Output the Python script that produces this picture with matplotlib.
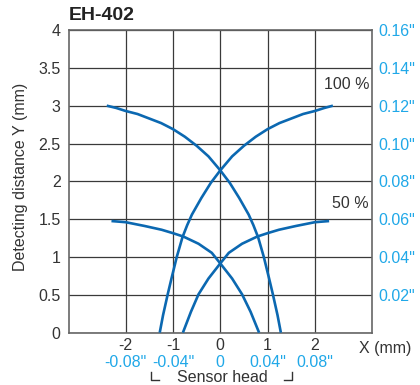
import matplotlib
matplotlib.use("Agg")
from matplotlib import pyplot as plt
from matplotlib.lines import Line2D
from matplotlib.transforms import blended_transform_factory

plt.rcParams['font.family'] = ['Liberation Sans', 'DejaVu Sans']

# 100 % curves (mm)
x100_a = [-2.40, -2.20, -2.00, -1.75, -1.50, -1.25, -1.00, -0.75, -0.50, -0.25, 0.00,
          0.20, 0.40, 0.60, 0.70, 0.80, 0.92, 1.03, 1.11, 1.21, 1.28]
y100_a = [3.00, 2.97, 2.93, 2.89, 2.83, 2.77, 2.69, 2.59, 2.47, 2.33, 2.145,
          1.98, 1.78, 1.56, 1.42, 1.26, 1.00, 0.72, 0.51, 0.23, 0.00]
x100_b = [2.38, 2.20, 2.00, 1.75, 1.50, 1.25, 1.00, 0.75, 0.50, 0.25, 0.00,
          -0.20, -0.40, -0.60, -0.70, -0.80, -0.92, -1.03, -1.11, -1.21, -1.28]
y100_b = [3.00, 2.97, 2.93, 2.89, 2.83, 2.77, 2.69, 2.59, 2.47, 2.33, 2.145,
          1.98, 1.78, 1.56, 1.42, 1.26, 1.00, 0.72, 0.51, 0.23, 0.00]

# 50 % curves (mm)
x50_a = [-2.30, -2.00, -1.60, -1.24, -1.00, -0.78, -0.46, -0.18, 0.00, 0.25, 0.46, 0.64, 0.82]
y50_a = [1.475, 1.46, 1.41, 1.36, 1.315, 1.27, 1.175, 1.055, 0.915, 0.715, 0.507, 0.276, 0.00]
x50_b = [2.30, 2.00, 1.60, 1.24, 1.00, 0.78, 0.46, 0.18, 0.00, -0.25, -0.46, -0.62, -0.79]
y50_b = [1.475, 1.46, 1.41, 1.36, 1.315, 1.27, 1.175, 1.055, 0.915, 0.715, 0.507, 0.276, 0.00]

yticks = [0, 0.5, 1, 1.5, 2, 2.5, 3, 3.5, 4]
ytick_labels = ['0', '0.5', '1', '1.5', '2', '2.5', '3', '3.5', '4']
yinch_labels = ['', '0.02"', '0.04"', '0.06"', '0.08"', '0.10"', '0.12"', '0.14"', '0.16"']
xticks = [-2, -1, 0, 1, 2]
xtick_labels = ['-2', '-1', '0', '1', '2']
xinch_labels = ['-0.08"', '-0.04"', '0', '0.04"', '0.08"']

blue = '#0b68b1'
cyan = '#20a8e8'
txt = '#333333'

fig = plt.figure(figsize=(4.2, 3.85), dpi=100)
ax = fig.add_axes([0.164, 0.136, 0.721, 0.786])

for xs, ys in [(x100_a, y100_a), (x100_b, y100_b), (x50_a, y50_a), (x50_b, y50_b)]:
    ax.plot(xs, ys, color=blue, lw=1.9, solid_capstyle='butt', zorder=3)

ax.set_xlim(-3.2, 3.2)
ax.set_ylim(0, 4)
ax.set_xticks(xticks)
ax.set_xticklabels(xtick_labels)
ax.set_yticks(yticks)
ax.set_yticklabels(ytick_labels)
ax.tick_params(axis='y', length=0, labelsize=11.5, labelcolor=txt, pad=6)
ax.tick_params(axis='x', length=0, labelsize=11.5, labelcolor=txt, pad=4)
ax.grid(True, color='#3a3a3a', lw=0.9)
for s in ax.spines.values():
    s.set_color('#666666')
    s.set_linewidth(1.2)

ax2 = ax.twinx()
ax2.set_ylim(0, 4)
ax2.set_yticks(yticks)
ax2.set_yticklabels(yinch_labels)
ax2.tick_params(length=0, labelsize=11.5, labelcolor=cyan, pad=5)
for s in ax2.spines.values():
    s.set_visible(False)

trans = blended_transform_factory(ax.transData, ax.transAxes)
for xv, lab in zip(xticks, xinch_labels):
    ax.text(xv, -0.1, lab, transform=trans, ha='center', va='center',
            fontsize=11.5, color=cyan)

ax.text(2.93, -0.052, 'X (mm)', transform=trans, ha='left', va='center',
        fontsize=11.5, color=txt)
ax.text(0.05, -0.148, 'Sensor head', transform=trans, ha='center', va='center',
        fontsize=11.5, color=txt)

# sensor head bracket corners
H = 385.0
W = 420.0
for xs, ys in [([151, 151, 159], [372, 379.5, 379.5]),
               ([284, 291.5, 291.5], [379.5, 379.5, 372])]:
    fig.add_artist(Line2D([v / W for v in xs], [1 - v / H for v in ys],
                          transform=fig.transFigure, color=txt, lw=1.0))

ax.text(2.67, 3.28, '100 %', ha='center', va='center', fontsize=11.5, color=txt)
ax.text(2.74, 1.71, '50 %', ha='center', va='center', fontsize=11.5, color=txt)

ax.set_ylabel('Detecting distance Y (mm)', fontsize=11.5, color=txt)
ax.yaxis.set_label_coords(-0.135, 0.515)
fig.text(69 / W, 1 - 16 / H, 'EH-402', fontsize=14, fontweight='bold',
         ha='left', va='center', color='#222222')

fig.savefig('out.png', dpi=100)
